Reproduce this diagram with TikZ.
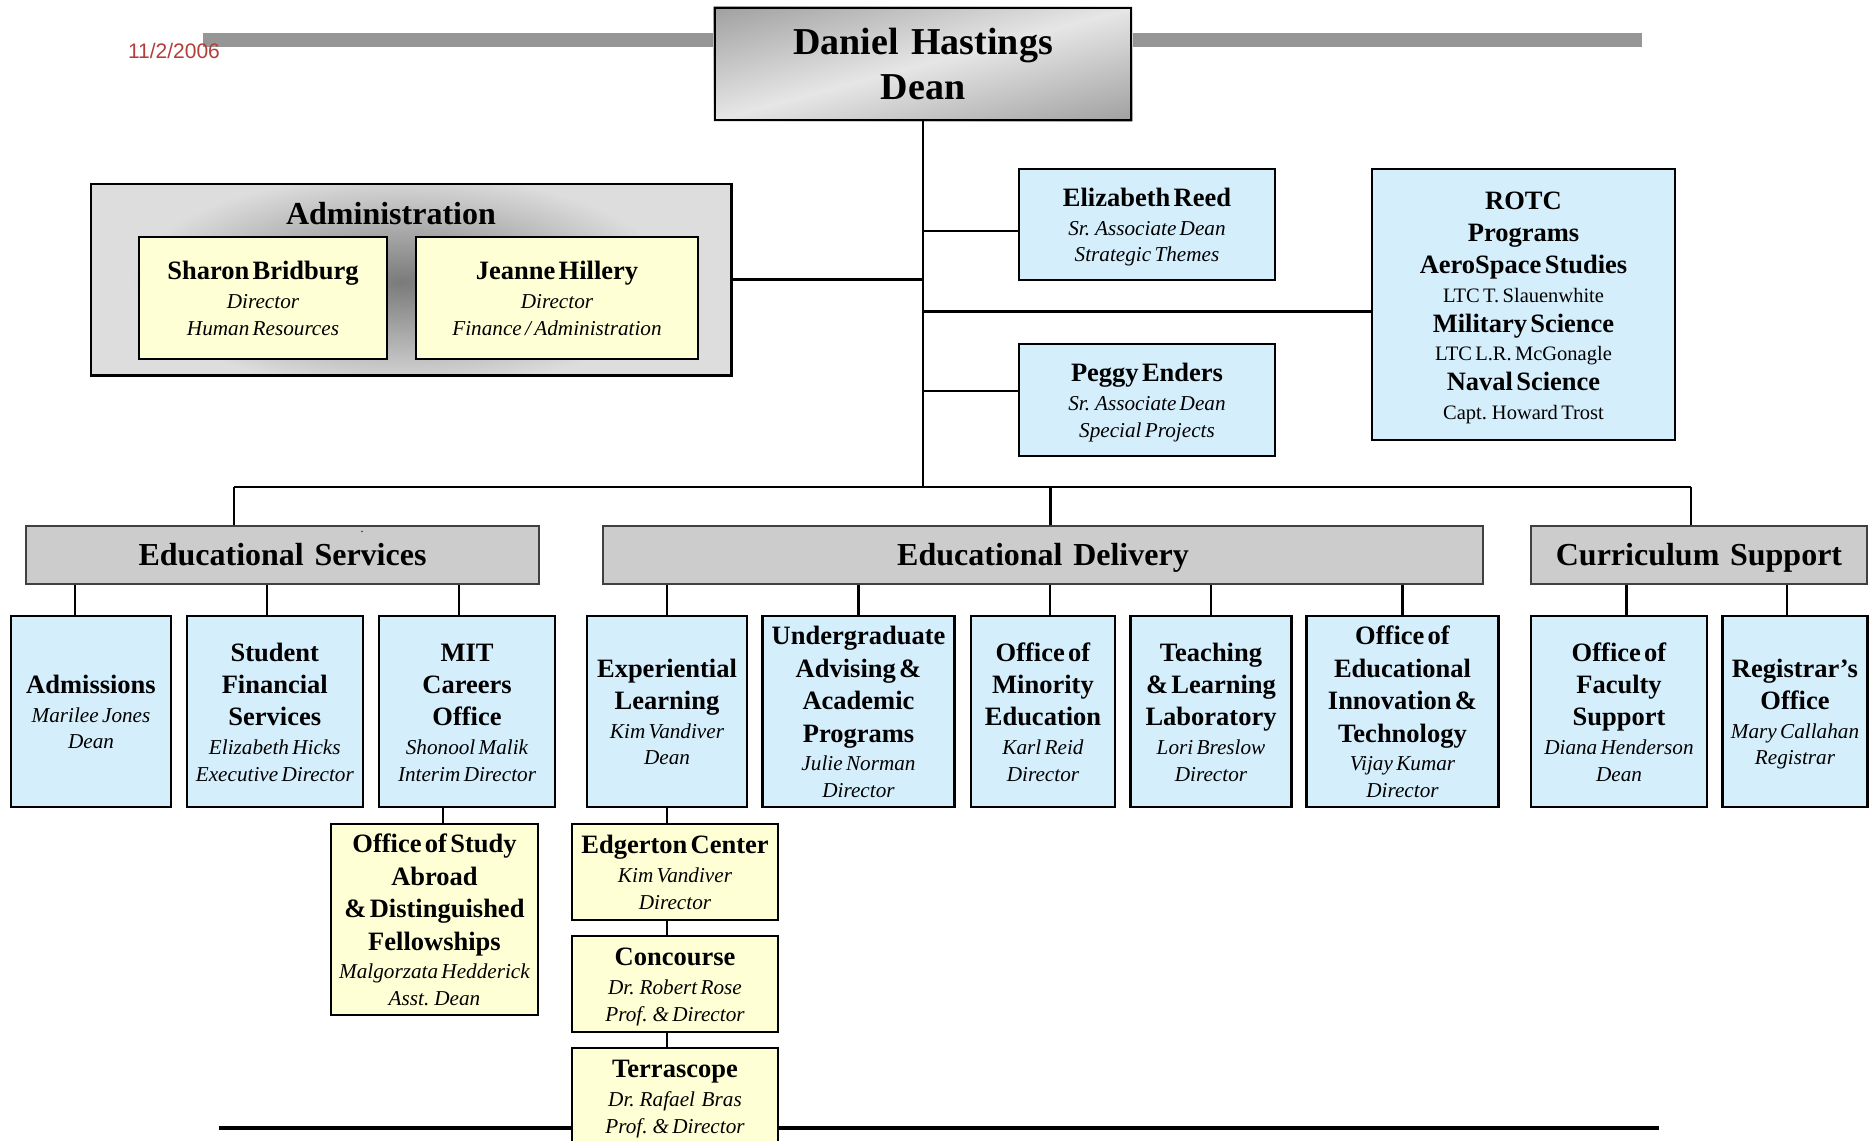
\documentclass[tikz,border=0pt]{standalone}
\usepackage{fontspec}
\setmainfont{Liberation Serif}
\newfontfamily\datefont{Liberation Sans}
\usetikzlibrary{positioning,backgrounds}
\definecolor{paleblue}{RGB}{213,238,252}
\definecolor{paleyellow}{RGB}{255,255,213}
\definecolor{headgray}{RGB}{204,204,204}
\definecolor{admgray}{RGB}{221,221,221}
\definecolor{bargray}{RGB}{150,150,150}
\definecolor{datered}{RGB}{178,62,58}
\definecolor{deandark}{RGB}{108,108,108}
\definecolor{deanlight}{RGB}{230,230,230}

% one line of box text each
\newcommand\bline[1]{{\fontsize{26.5}{30.2}\selectfont\bfseries\rule[-0.216em]{0pt}{1.107em}#1\par}\vskip2.2pt}
\newcommand\iline[1]{{\fontsize{21.2}{26.5}\selectfont\itshape\rule[-0.216em]{0pt}{1.107em}#1\par}}
\newcommand\rline[1]{{\fontsize{20.5}{26.1}\selectfont\rule[-0.216em]{0pt}{1.107em}#1\par}}
\newcommand\htext[1]{\rule[-0.216em]{0pt}{1.107em}#1}

\tikzset{
  unit/.style={draw, line width=2.6pt, inner sep=0pt, align=center},
  bluebox/.style={unit, fill=paleblue},
  yellowbox/.style={unit, fill=paleyellow},
  headbox/.style={draw=black!75, line width=1.4pt, inner sep=0pt, align=center, fill=headgray, font=\fontsize{32}{38}\selectfont\bfseries},
  boxsize/.style 2 args={minimum width=#1, text width=#1, minimum height=#2},
  link/.style={line width=2.2pt},
}

\begin{document}
\begin{tikzpicture}[x=1pt, y=-1pt]
\useasboundingbox (0,0) rectangle (1875,1141);

% top band and dean
\node[text=datered, font=\datefont\fontsize{21}{25}\selectfont, inner sep=0pt] (date) at (174,51) {11/2/2006};
\node[unit, boxsize={416pt}{112pt}, font=\fontsize{38}{45}\selectfont\bfseries] (dean) at (923,64) {Daniel Hastings\\Dean};
\begin{scope}[on background layer]
  \fill[bargray] (203,33) rectangle (1642,47);
  \clip (dean.south west) rectangle (dean.north east);
  \shade[top color=deandark, bottom color=deandark, middle color=deanlight,
         transform canvas={rotate around={15:(dean.center)}}] (573,-126) rectangle (1273,254);
\end{scope}

% administration group
\node[inner sep=0pt, minimum width=640pt, minimum height=191pt, fill=admgray] (adm) at (411,279.5) {};
\begin{scope}
  \clip (adm.south west) rectangle (adm.north east);
  \shade[inner color=black!52, outer color=admgray] (402,282) ellipse (270pt and 108pt);
\end{scope}
\draw[line width=2.6pt] (adm.south west) rectangle (adm.north east);
\node[inner sep=0pt, font=\fontsize{32}{38}\selectfont\bfseries] (admtitle) at (391,214) {Administration};
\node[yellowbox, boxsize={248pt}{122pt}] (hr) at (263,298) {\bline{Sharon Bridburg}\iline{Director}\iline{Human Resources}};
\node[yellowbox, boxsize={282pt}{122pt}] (fin) at (557,298) {\bline{Jeanne Hillery}\iline{Director}\iline{Finance / Administration}};

% staff to the dean
\node[bluebox, boxsize={256pt}{111pt}] (reed) at (1147,224.5) {\bline{Elizabeth Reed}\iline{Sr. Associate Dean}\iline{Strategic Themes}};
\node[bluebox, boxsize={256pt}{112pt}] (enders) at (1147,400) {\bline{Peggy Enders}\iline{Sr. Associate Dean}\iline{Special Projects}};
\node[bluebox, boxsize={303pt}{271pt}] (rotc) at (1523.5,304.5) {\bline{ROTC}\bline{Programs}\bline{AeroSpace Studies}\rline{LTC T. Slauenwhite}\bline{Military Science}\rline{LTC L.R. McGonagle}\bline{Naval Science}\rline{Capt. Howard Trost}};

% the three groups
\node[headbox, boxsize={513pt}{58pt}] (esh) at (282.5,555) {\htext{Educational Services}};
\node[inner sep=0pt, font=\fontsize{12}{12}\selectfont] (esdot) at (362,532) {.};
\node[headbox, boxsize={880pt}{58pt}] (edh) at (1043,555) {\htext{Educational Delivery}};
\node[headbox, boxsize={336pt}{58pt}] (csh) at (1699,555) {\htext{Curriculum Support}};

\node[bluebox, boxsize={160pt}{191pt}] (admis) at (91,711.5) {\bline{Admissions}\iline{Marilee Jones}\iline{Dean}};
\node[bluebox, boxsize={176pt}{191pt}] (sfs) at (274.8,711.5) {\bline{Student}\bline{Financial}\bline{Services}\iline{Elizabeth Hicks}\iline{Executive Director}};
\node[bluebox, boxsize={176pt}{191pt}] (mit) at (467,711.5) {\bline{MIT}\bline{Careers}\bline{Office}\iline{Shonool Malik}\iline{Interim Director}};
\node[bluebox, boxsize={160pt}{191pt}] (exp) at (667,711.5) {\bline{Experiential}\bline{Learning}\iline{Kim Vandiver}\iline{Dean}};
\node[bluebox, boxsize={192pt}{191pt}] (uaap) at (858.5,711.5) {\bline{Undergraduate}\bline{Advising \&}\bline{Academic}\bline{Programs}\iline{Julie Norman}\iline{Director}};
\node[bluebox, boxsize={144pt}{191pt}] (ome) at (1043,711.5) {\bline{Office of}\bline{Minority}\bline{Education}\iline{Karl Reid}\iline{Director}};
\node[bluebox, boxsize={161pt}{191pt}] (tll) at (1211,711.5) {\bline{Teaching}\bline{\& Learning}\bline{Laboratory}\iline{Lori Breslow}\iline{Director}};
\node[bluebox, boxsize={192pt}{191pt}] (oeit) at (1402.5,711.5) {\bline{Office of}\bline{Educational}\bline{Innovation \&}\bline{Technology}\iline{Vijay Kumar}\iline{Director}};
\node[bluebox, boxsize={176pt}{191pt}] (ofs) at (1619,711.5) {\bline{Office of}\bline{Faculty}\bline{Support}\iline{Diana Henderson}\iline{Dean}};
\node[bluebox, boxsize={145pt}{191pt}] (reg) at (1795,711.5) {\bline{Registrar's}\bline{Office}\iline{Mary Callahan}\iline{Registrar}};

% second level
\node[yellowbox, boxsize={207pt}{191pt}] (sab) at (434.5,919.5) {\bline{Office of Study}\bline{Abroad}\bline{\& Distinguished}\bline{Fellowships}\iline{Malgorzata Hedderick}\iline{Asst. Dean}};
\draw[line width=4.5pt] (219,1128) -- (1659,1128);
\node[yellowbox, boxsize={206pt}{96pt}] (edg) at (675,872) {\bline{Edgerton Center}\iline{Kim Vandiver}\iline{Director}};
\node[yellowbox, boxsize={206pt}{96pt}, below=13.4pt of edg] (conc) {\bline{Concourse}\iline{Dr. Robert Rose}\iline{Prof. \& Director}};
\node[yellowbox, boxsize={206pt}{96pt}, below=13.4pt of conc] (terra) {\bline{Terrascope}\iline{Dr. Rafael~ Bras}\iline{Prof. \& Director}};

% connectors
\coordinate (busL) at (234,487);
\coordinate (busR) at (1691,487);
\draw[link] (dean.south) -- (dean.south |- busL);
\draw[link] (busL) -- (busR);
\draw[link] (busL) -- (busL |- esh.north);
\draw[link] ([xshift=7.5pt]edh.north) -- ([xshift=7.5pt]edh.north |- busL);
\draw[link] (busR) -- (busR |- csh.north);
\draw[link] (adm.east) -- (adm.east -| dean.south);
\draw[link] ([yshift=-6.5pt]reed.west) -- ([yshift=-6.5pt]reed.west -| dean.south);
\draw[link] ([yshift=9pt]enders.west) -- ([yshift=9pt]enders.west -| dean.south);
\draw[link] ([yshift=-7pt]rotc.west) -- ([yshift=-7pt]rotc.west -| dean.south);
\foreach \child/\parent/\dx in {admis/esh/-16pt, sfs/esh/-7.5pt, mit/esh/-8pt, exp/edh/0pt, uaap/edh/0pt,
    ome/edh/7pt, tll/edh/0pt, oeit/edh/0pt, ofs/csh/7.5pt, reg/csh/-8pt}
  \draw[link] ([xshift=\dx]\child.north) -- ([xshift=\dx]\child.north |- \parent.south);
\draw[link] ([xshift=8.5pt]sab.north) -- ([xshift=8.5pt]sab.north |- mit.south);
\draw[link] (edg.north -| exp.south) -- (exp.south);
\draw[link] (edg.south -| exp.south) -- (conc.north -| exp.south);
\draw[link] (conc.south -| exp.south) -- (terra.north -| exp.south);
\end{tikzpicture}
\end{document}
